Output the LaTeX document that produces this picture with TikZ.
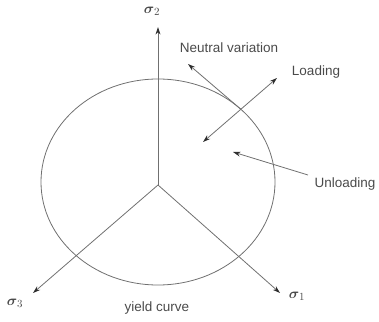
\documentclass[tikz,border=0pt]{standalone}
\usepackage{amsmath}
\usepackage{fontspec}
\setmainfont{Liberation Sans}
\usetikzlibrary{arrows.meta, positioning, calc}
\definecolor{cline}{HTML}{707070}
\definecolor{ctext}{HTML}{4A4A4A}
\definecolor{chead}{HTML}{2E2E2E}
\tikzset{
  every picture/.style={x=1pt, y=1pt, line width=0.8pt},
  axis/.style={draw=cline, -{Stealth[length=7.5pt, width=4.8pt, color=chead]}},
  twoway/.style={draw=cline, {Stealth[length=7.5pt, width=4.8pt, color=chead]}-{Stealth[length=7.5pt, width=4.8pt, color=chead]}},
  lbl/.style={text=ctext, font=\fontsize{13.5}{16}\selectfont, inner sep=1pt},
  sig/.style={text=ctext, font=\fontsize{15}{17}\selectfont, inner sep=1pt},
}

\begin{document}
\begin{tikzpicture}
  \useasboundingbox (0,0) rectangle (379,321);
  % yield curve and origin
  \coordinate (o) at (158,136);
  \coordinate (e) at (158,139);
  \draw[cline] (e) ellipse [x radius=117pt, y radius=103pt];
  % principal stress axes
  \node[sig] (s2) at (152,310) {$\boldsymbol{\sigma}_2$};
  \node[sig] (s3) at (15,18) {$\boldsymbol{\sigma}_3$};
  \node[sig] (s1) at (297,25) {$\boldsymbol{\sigma}_1$};
  \coordinate (t2) at (158,294);
  \coordinate (t3) at (33,28);
  \coordinate (t1) at (280,28);
  \draw[axis] (o) -- (t2);
  \draw[axis] (o) -- (t3);
  \draw[axis] (o) -- (t1);
  \node[lbl] (yc) at (157,13) {yield curve};
  % load directions at the yield point
  \coordinate (p) at ($(e)+(45:117pt and 103pt)$);
  \node[lbl] (nv) at (229,273) {Neutral variation};
  \coordinate (nt) at (188,257);
  \draw[axis] (p) -- (nt);
  \node[lbl] (ld) at (316,249) {Loading};
  \coordinate (la) at (203,179);
  \coordinate (lb) at (277,243);
  \draw[twoway] (la) -- (lb);
  \node[lbl] (ul) at (345,137) {Unloading};
  \coordinate (ut) at (308,146);
  \coordinate (uh) at (233,169);
  \draw[axis] (ut) -- (uh);
\end{tikzpicture}
\end{document}
